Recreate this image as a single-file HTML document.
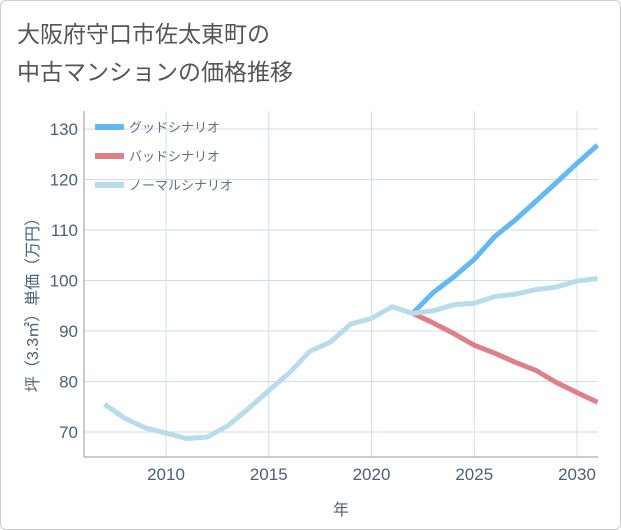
<!DOCTYPE html>
<html><head><meta charset="utf-8"><style>
body{margin:0;background:#fff;font-family:"Liberation Sans","Noto Sans CJK JP",sans-serif}
#wrap{position:relative;width:619px;height:528px;border:1px solid #ccc;border-radius:6px;overflow:hidden;background:#fff}
</style></head><body>
<div id="wrap">
<svg id="chart" width="621" height="530">
<text x="16" y="41" font-size="23" fill="#555" font-family="Liberation Sans,Noto Sans CJK JP,sans-serif">大阪府守口市佐太東町の</text>
<text x="16" y="79" font-size="23" fill="#555" font-family="Liberation Sans,Noto Sans CJK JP,sans-serif">中古マンションの価格推移</text>
<g id="grid"></g><g id="series"></g><g id="axes"></g><g id="legend"></g>
</svg></div>
<script>
const years=[2007,2008,2009,2010,2011,2012,2013,2014,2015,2016,2017,2018,2019,2020,2021,2022,2023,2024,2025,2026,2027,2028,2029,2030,2031];
const normalVals=[75.5,72.7,70.8,69.8,68.7,69.0,71.2,74.6,78.2,81.7,86.0,87.8,91.4,92.5,94.8,93.5,94.0,95.2,95.5,96.8,97.3,98.2,98.7,99.9,100.4];
const goodYears=[2022,2023,2024,2025,2026,2027,2028,2029,2030,2031];
const goodVals=[93.5,97.6,100.7,104.2,108.7,112.0,115.7,119.4,123.2,126.8];
const badVals=[93.5,91.6,89.5,87.2,85.6,83.8,82.2,79.8,77.8,75.9];
const xTicks=[2010,2015,2020,2025,2030];
const yTicks=[70,80,90,100,110,120,130];
const legendLabels=["グッドシナリオ","バッドシナリオ","ノーマルシナリオ"];
const NS="http://www.w3.org/2000/svg";
const L=83,R=597,T=110,B=456;
const TC='#4a6275';
const xs=y=>165+(y-2010)*20.55;
const ys=v=>431-(v-70)*5.05;
function mk(tag,attrs,parent){const e=document.createElementNS(NS,tag);for(const k in attrs)e.setAttribute(k,attrs[k]);document.getElementById(parent).appendChild(e);return e;}
const F="Liberation Sans,Noto Sans CJK JP,sans-serif";
for(const t of xTicks){const l=mk('line',{x1:xs(t),x2:xs(t),y1:T,y2:B,stroke:'#d3dde8','stroke-width':1},'grid');


const tx=mk('text',{x:xs(t),y:479,'text-anchor':'middle','font-size':17,fill:TC,'font-family':F},'axes');tx.textContent=t;

}
for(const t of yTicks){const l=mk('line',{x1:L,x2:R,y1:ys(t),y2:ys(t),stroke:'#d3dde8','stroke-width':1},'grid');


const tx=mk('text',{x:77,y:ys(t)+6,'text-anchor':'end','font-size':17,fill:TC,'font-family':F},'axes');tx.textContent=t;

}
const ax=mk('line',{x1:L,x2:L,y1:T,y2:B,stroke:'#999'},'axes');


const ax2=mk('line',{x1:L,x2:R,y1:B,y2:B,stroke:'#999'},'axes');


const xt=mk('text',{x:340,y:514,'text-anchor':'middle','font-size':16,fill:TC,'font-family':F},'axes');xt.textContent='年';


const yt=mk('text',{x:0,y:0,'text-anchor':'middle','font-size':16,fill:TC,'font-family':F,transform:'translate(37,300) rotate(-90)'},'axes');yt.textContent='坪（3.3㎡）単価（万円）';


function line(xv,yv,color,name){const d=xv.map((x,i)=>(i?'L':'M')+xs(x)+','+ys(yv[i])).join('');
const p=mk('path',{d:d,fill:'none',stroke:color,'stroke-width':5,'stroke-linejoin':'round'},'series');

}
line(goodYears,badVals,'#dd8088','bad-scenario-line');
line(goodYears,goodVals,'#66b8f0','good-scenario-line');
line(years,normalVals,'#b9dcea','normal-scenario-line');
const cols=['#66b8f0','#dd8088','#b9dcea'];
legendLabels.forEach((lab,i)=>{const y=126+i*29;
const r=mk('rect',{x:94,y:y-3,width:29,height:6,fill:cols[i]},'legend');


const t=mk('text',{x:128,y:y+5,'font-size':13,fill:'#5f7080','font-family':F},'legend');t.textContent=lab;

});
</script></body></html>
